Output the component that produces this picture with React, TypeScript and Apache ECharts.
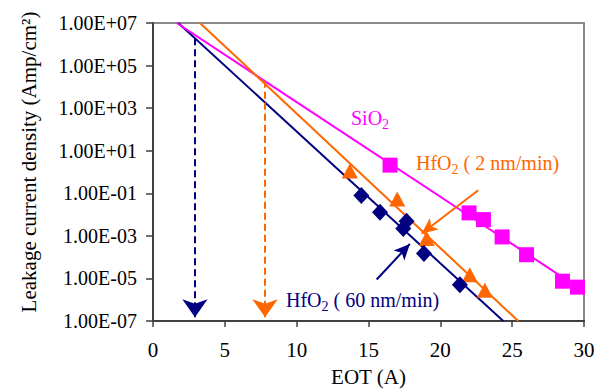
import React, { useEffect, useRef } from "react";
import * as echarts from "echarts";

// ---- data (EOT in Å, leakage current density in A/cm²) ----
const sio2X = [16.5, 22.0, 23.0, 24.3, 26.0, 28.5, 29.55];
const sio2Y = [2.1, 1.2e-2, 5.8e-3, 8.9e-4, 1.3e-4, 7.4e-6, 3.9e-6];

const hfo2SlowX = [13.7, 17.0, 19.05, 22.05, 23.1];
const hfo2SlowY = [1.1, 5.4e-2, 7.6e-4, 1.5e-5, 2.8e-6];

const hfo2FastX = [14.5, 15.8, 17.65, 17.42, 18.86, 21.36];
const hfo2FastY = [7.8e-2, 1.3e-2, 4.8e-3, 2.2e-3, 1.5e-4, 5.1e-6];

// fitted lines (endpoints)
const sio2FitX = [1.65, 29.55];
const sio2FitY = [1e7, 3.9e-6];
const hfo2SlowFitX = [3.27, 25.42];
const hfo2SlowFitY = [1e7, 1e-7];
const hfo2FastFitX = [1.76, 24.38];
const hfo2FastFitY = [1e7, 1e-7];

// dashed drop arrows
const dropFastX = [2.92, 2.92];
const dropFastY = [1.9e6, 1.5e-7];
const dropSlowX = [7.8, 7.8];
const dropSlowY = [1.95e4, 1.5e-7];

// label pointer arrows
const pointSlowX = [22.64, 18.7];
const pointSlowY = [0.14, 1.3e-3];
const pointFastX = [15.57, 17.88];
const pointFastY = [8.9e-6, 4.2e-4];

const yTicks = [-7, -5, -3, -1, 1, 3, 5, 7];

const NAVY = "#000080";
const ORANGE = "#FF6600";
const MAGENTA = "#FF00FF";
const FONT = "'Liberation Serif', 'Times New Roman', serif";

const pairs = (xs: number[], ys: number[]) => xs.map((x, i) => [x, Math.log10(ys[i])]);

const fmtExp = (v: number) => {
  const e = Math.round(v);
  const s = e >= 0 ? "+" : "-";
  const a = Math.abs(e);
  return "1.00E" + s + (a < 10 ? "0" + a : String(a));
};

const arrowLine = (xs: number[], ys: number[], color: string, dashed: boolean, size: number[]) => ({
  type: "line",
  data: [],
  silent: true,
  markLine: {
    silent: true,
    animation: false,
    symbol: ["none", "arrow"],
    symbolSize: size,
    label: { show: false },
    lineStyle: { color, width: 2, type: dashed ? [7, 4] : "solid", opacity: 1 },
    data: [
      [
        { coord: [xs[0], Math.log10(ys[0])] },
        { coord: [xs[1], Math.log10(ys[1])] },
      ],
    ],
  },
});

const fitLine = (xs: number[], ys: number[], color: string) => ({
  type: "line",
  data: pairs(xs, ys),
  showSymbol: false,
  symbol: "none",
  lineStyle: { color, width: 2 },
  silent: true,
});

const points = (xs: number[], ys: number[], color: string, symbol: string, size: number | number[]) => ({
  type: "scatter",
  data: pairs(xs, ys),
  symbol,
  symbolSize: size,
  itemStyle: { color, opacity: 1 },
  silent: true,
  z: 5,
});

const subText = (pre: string, post: string, color: string, x: number, y: number) => ({
  type: "text",
  x,
  y,
  style: {
    text: "{n|" + pre + "}{s|2}{n|" + post + "}",
    verticalAlign: "middle",
    align: "left",
    rich: {
      n: { fontSize: 20, fontFamily: FONT, fill: color, lineHeight: 22 },
      s: {
        fontSize: 14,
        fontFamily: FONT,
        fill: color,
        lineHeight: 14,
        padding: [10, 0, 0, 0],
        verticalAlign: "top",
      },
    },
  },
});

export default function App() {
  const ref = useRef<HTMLDivElement>(null);
  useEffect(() => {
    if (!ref.current) return;
    const chart = echarts.init(ref.current, undefined, { renderer: "svg" });
    chart.setOption({
      animation: false,
      backgroundColor: "#ffffff",
      grid: {
        left: 153,
        right: 25,
        top: 23,
        bottom: 66,
        show: true,
        borderColor: "#8a8a8a",
        borderWidth: 2,
        backgroundColor: "transparent",
      },
      xAxis: {
        type: "value",
        min: 0,
        max: 30,
        interval: 5,
        name: "EOT (A)",
        nameLocation: "middle",
        nameGap: 45,
        nameTextStyle: { fontSize: 21, fontFamily: FONT, color: "#000" },
        axisLine: { show: true, onZero: false, lineStyle: { color: "#404040", width: 2 } },
        axisTick: { show: true, length: 6, lineStyle: { color: "#404040", width: 1.5 } },
        axisLabel: { fontSize: 21, fontFamily: FONT, color: "#000", margin: 18 },
        splitLine: { show: false },
      },
      yAxis: {
        type: "value",
        min: -7,
        max: 7,
        interval: 2,
        axisLine: { show: true, onZero: false, lineStyle: { color: "#404040", width: 2 } },
        axisTick: { show: true, length: 7, lineStyle: { color: "#404040", width: 1.5 } },
        axisLabel: {
          fontSize: 20,
          fontFamily: FONT,
          color: "#000",
          margin: 16,
          formatter: (v: number) => (yTicks.indexOf(Math.round(v)) >= 0 ? fmtExp(v) : ""),
        },
        splitLine: { show: false },
      },
      graphic: [
        {
          type: "text",
          x: 29,
          y: 162,
          rotation: Math.PI / 2,
          style: {
            text: "Leakage current density (Amp/cm²)",
            fontSize: 21,
            fontFamily: FONT,
            fill: "#000",
            align: "center",
            verticalAlign: "middle",
          },
        },
        subText("SiO", "", MAGENTA, 351, 118),
        subText("HfO", " ( 2 nm/min)", ORANGE, 416, 163),
        subText("HfO", " ( 60 nm/min)", NAVY, 286, 300),
      ],
      series: [
        fitLine(hfo2FastFitX, hfo2FastFitY, NAVY),
        fitLine(sio2FitX, sio2FitY, MAGENTA),
        fitLine(hfo2SlowFitX, hfo2SlowFitY, ORANGE),
        arrowLine(dropFastX, dropFastY, NAVY, true, [19, 18]),
        arrowLine(dropSlowX, dropSlowY, ORANGE, true, [19, 18]),
        arrowLine(pointSlowX, pointSlowY, ORANGE, false, [11, 16]),
        arrowLine(pointFastX, pointFastY, NAVY, false, [11, 16]),
        points(sio2X, sio2Y, MAGENTA, "rect", 15),
        points(hfo2SlowX, hfo2SlowY, ORANGE, "triangle", [16, 15]),
        points(hfo2FastX, hfo2FastY, NAVY, "diamond", [16, 17]),
      ],
    });
    return () => chart.dispose();
  }, []);
  return <div ref={ref} style={{ width: 609, height: 392, position: "absolute", left: 0, top: 0 }} />;
}
